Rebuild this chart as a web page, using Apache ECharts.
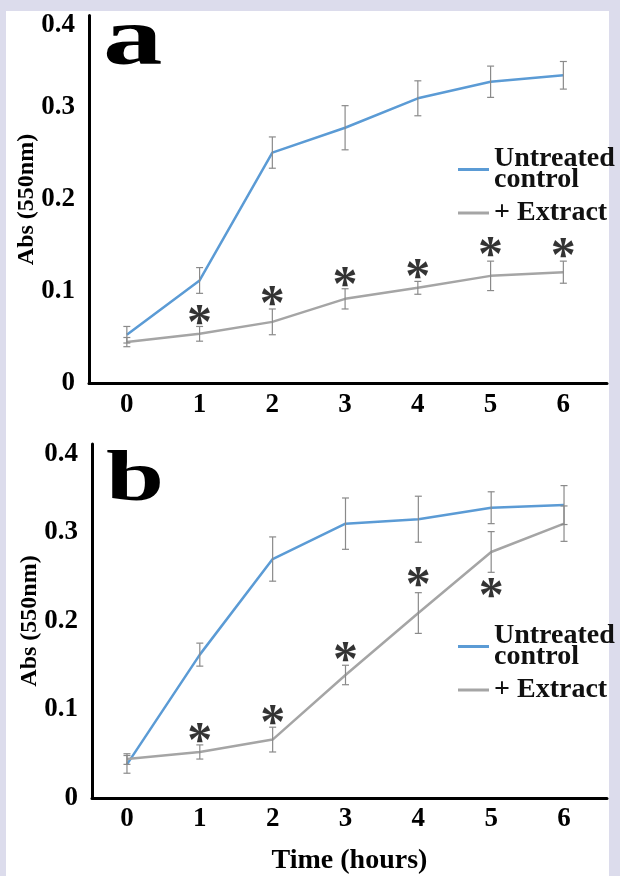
<!DOCTYPE html>
<html>
<head>
<meta charset="utf-8">
<script src="https://cdn.jsdelivr.net/npm/echarts@6/dist/echarts.min.js"></script>
<style>
  html, body { margin: 0; padding: 0; background: #dcdcec; }
  #panel { position: absolute; left: 6px; top: 11px; width: 603px; height: 865px; background: #fff; }
  #chart { position: absolute; left: 0; top: 0; width: 620px; height: 876px; }
</style>
</head>
<body>
<div id="panel"></div>
<div id="chart"></div>
<script>
// time points (hours)
const hours = [0, 1, 2, 3, 4, 5, 6];
const yTicks = [0, 0.1, 0.2, 0.3, 0.4];

// panel a
const ctrlA = [0.053, 0.112, 0.251, 0.278, 0.310, 0.328, 0.335];
const ctrlErrA = [0.009, 0.014, 0.017, 0.024, 0.019, 0.017, 0.015];
const extA = [0.045, 0.054, 0.067, 0.092, 0.104, 0.117, 0.121];
const extErrA = [0.005, 0.008, 0.014, 0.011, 0.007, 0.016, 0.012];
const starA = [null, 0.073, 0.094, 0.115, 0.123, 0.147, 0.146];

// panel b
const ctrlB = [0.038, 0.162, 0.270, 0.310, 0.315, 0.328, 0.331];
const ctrlErrB = [0.010, 0.013, 0.025, 0.029, 0.026, 0.018, 0.022];
const extB = [0.044, 0.052, 0.066, 0.139, 0.209, 0.278, 0.310];
const extErrB = [0.006, 0.008, 0.014, 0.011, 0.023, 0.023, 0.020];
const starB = [null, 0.072, 0.093, 0.164, 0.248, 0.236, null];

const BLUE = '#5b9bd5';
const GREY = '#a5a5a5';
const FONT = 'Liberation Serif';

const chart = echarts.init(document.getElementById('chart'));

function pairs(vals) {
  return hours.map((h, i) => [h, vals[i]]);
}

function errData(vals, errs) {
  return hours.map((h, i) => [h, vals[i], errs[i]]);
}

function renderErr(params, api) {
  const x = api.value(0), v = api.value(1), e = api.value(2);
  const top = api.coord([x, v + e]);
  const bot = api.coord([x, v - e]);
  const style = { stroke: '#8a8a8a', lineWidth: 1.2 };
  return {
    type: 'group',
    children: [
      { type: 'line', shape: { x1: top[0], y1: top[1], x2: bot[0], y2: bot[1] }, style: style },
      { type: 'line', shape: { x1: top[0] - 3.5, y1: top[1], x2: top[0] + 3.5, y2: top[1] }, style: style },
      { type: 'line', shape: { x1: bot[0] - 3.5, y1: bot[1], x2: bot[0] + 3.5, y2: bot[1] }, style: style }
    ]
  };
}

function xAxis(idx, min, max, withName) {
  return {
    gridIndex: idx,
    type: 'value',
    min: min,
    max: max,
    name: withName ? 'Time (hours)' : '',
    nameLocation: 'middle',
    nameGap: 49,
    nameMoveOverlap: false,
    nameTextStyle: { fontFamily: FONT, fontWeight: 'bold', fontSize: 28, color: '#000' },
    axisLine: { show: true, onZero: false, lineStyle: { color: '#000', width: 3 } },
    axisTick: { show: false },
    splitLine: { show: false },
    axisLabel: {
      customValues: hours,
      margin: 8,
      fontFamily: FONT, fontWeight: 'bold', fontSize: 27, color: '#000'
    }
  };
}

function yAxis(idx) {
  return {
    gridIndex: idx,
    type: 'value',
    min: 0,
    max: 0.4,
    interval: 0.1,
    name: 'Abs (550nm)',
    nameLocation: 'middle',
    nameRotate: 90,
    nameGap: 50,
    nameMoveOverlap: false,
    nameTextStyle: { fontFamily: FONT, fontWeight: 'bold', fontSize: 24, color: '#000' },
    axisLine: { show: true, onZero: false, lineStyle: { color: '#000', width: 3 } },
    axisTick: { show: false },
    splitLine: { show: false },
    axisLabel: {
      margin: 14,
      fontFamily: FONT, fontWeight: 'bold', fontSize: 27, color: '#000',
      formatter: function (v) {
        const s = String(Math.round(v * 10) / 10);
        return v > 0.35 ? '{t|' + s + '}' : s;
      },
      rich: { t: { padding: [20, 0, 0, 0], fontFamily: FONT, fontWeight: 'bold', fontSize: 27, color: '#000' } }
    }
  };
}

function legend(top) {
  return {
    orient: 'vertical',
    left: 458,
    top: top,
    padding: 0,
    itemWidth: 31,
    itemHeight: 3,
    itemGap: 5,
    icon: 'rect',
    selectedMode: false,
    data: ['Untreated control', '+ Extract'],
    formatter: function (name) {
      return name === 'Untreated control' ? 'Untreated\ncontrol' : name;
    },
    textStyle: { fontFamily: FONT, fontWeight: 'bold', fontSize: 28, lineHeight: 21, color: '#111' }
  };
}

function panelSeries(idx, ctrl, ctrlErr, ext, extErr, stars) {
  return [
    {
      name: 'Untreated control', type: 'line', xAxisIndex: idx, yAxisIndex: idx,
      data: pairs(ctrl), showSymbol: false, color: BLUE,
      lineStyle: { color: BLUE, width: 2.5 }, z: 3
    },
    {
      name: '+ Extract', type: 'line', xAxisIndex: idx, yAxisIndex: idx,
      data: pairs(ext), showSymbol: false, color: GREY,
      lineStyle: { color: GREY, width: 2.5 }, z: 3
    },
    {
      type: 'custom', xAxisIndex: idx, yAxisIndex: idx,
      data: errData(ctrl, ctrlErr), renderItem: renderErr, encode: { x: 0, y: 1 }, z: 4
    },
    {
      type: 'custom', xAxisIndex: idx, yAxisIndex: idx,
      data: errData(ext, extErr), renderItem: renderErr, encode: { x: 0, y: 1 }, z: 4
    },
    {
      type: 'scatter', xAxisIndex: idx, yAxisIndex: idx,
      data: pairs(stars).filter(p => p[1] !== null),
      symbolSize: 2, itemStyle: { color: 'rgba(0,0,0,0)' },
      label: {
        show: true, position: 'inside', formatter: '*', offset: [0, 9],
        fontFamily: FONT, fontWeight: 'bold', fontSize: 50, color: '#000'
      },
      z: 5
    }
  ];
}

const option = {
  backgroundColor: 'transparent',
  animation: false,
  grid: [
    { left: 89, top: 15.5, width: 518, height: 368 },
    { left: 92, top: 444, width: 515, height: 368 }
  ],
  xAxis: [xAxis(0, -0.52, 6.6, false), xAxis(1, -0.48, 6.59, true)],
  yAxis: [yAxis(0), yAxis(1)],
  legend: [legend(145), legend(622)],
  graphic: [
    { type: 'text', left: 103, top: 2, scaleX: 1.45, style: { text: 'a', fontFamily: FONT, fontWeight: 'bold', fontSize: 82, fill: '#000' } },
    { type: 'text', left: 106, top: 445, scaleX: 1.45, style: { text: 'b', fontFamily: FONT, fontWeight: 'bold', fontSize: 72, fill: '#000' } }
  ],
  series: panelSeries(0, ctrlA, ctrlErrA, extA, extErrA, starA)
    .concat(panelSeries(1, ctrlB, ctrlErrB, extB, extErrB, starB))
};

chart.setOption(option);
</script>
</body>
</html>
